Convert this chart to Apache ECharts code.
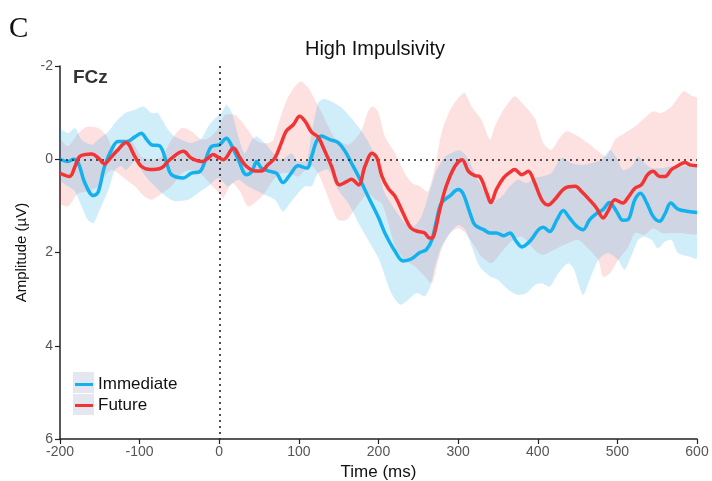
<!DOCTYPE html>
<html>
<head>
<meta charset="utf-8">
<script src="https://cdn.jsdelivr.net/npm/echarts@6/dist/echarts.min.js"></script>
<style>html,body{margin:0;padding:0;background:#fff}#c{width:712px;height:481px}</style>
</head>
<body>
<div id="c"></div>
<script>
// ---- data (time in ms, amplitude in µV) ----
const xTicks = [-200, -100, 0, 100, 200, 300, 400, 500, 600];
const yTicks = [-2, 0, 2, 4, 6];

const immT = [-200,-190,-183,-177,-169,-158,-152,-144,-133,-127,-116,-106,-98,-91,-85,-75,-66,-60,-45,-35,-24,-18,-10,0,9,15,24,34,41,47,53,64,72,80,89,99,110,116,122,128,139,149,158,166,175,187,200,208,221,231,241,252,260,267,273,279,290,300,306,315,321,332,340,348,357,365,373,380,390,401,407,415,424,432,440,449,457,465,474,482,490,499,507,513,522,529,537,545,553,560,567,576,589,600];
const immV = [0.0,0.05,0.0,0.08,0.5,0.78,0.7,0.15,-0.28,-0.38,-0.38,-0.48,-0.56,-0.42,-0.31,-0.29,0.08,0.33,0.4,0.3,0.26,0.05,-0.27,-0.31,-0.45,-0.31,0.01,0.33,0.26,0.05,0.19,0.26,0.3,0.5,0.33,0.14,0.19,-0.06,-0.38,-0.5,-0.42,-0.36,-0.17,0.08,0.37,0.8,1.25,1.58,1.98,2.18,2.14,2.0,1.94,1.73,1.3,0.94,0.78,0.65,0.73,1.16,1.41,1.51,1.58,1.58,1.64,1.58,1.76,1.88,1.76,1.51,1.46,1.55,1.3,1.1,1.26,1.44,1.51,1.3,1.16,1.08,0.93,1.12,1.31,1.3,0.87,0.73,0.94,1.23,1.33,1.16,0.94,1.07,1.12,1.14];

const futT = [-200,-188,-181,-175,-160,-152,-144,-138,-129,-117,-106,-98,-87,-73,-62,-45,-35,-22,-14,-8,0,5,18,26,34,45,53,61,70,78,84,93,101,108,116,124,132,141,151,160,166,175,183,192,198,204,212,221,231,241,250,258,264,269,277,285,296,305,313,321,327,336,341,348,357,365,371,380,388,396,405,413,421,434,447,455,465,474,482,488,497,507,513,522,530,538,545,553,560,568,576,585,591,600];
const futV = [0.3,0.37,0.15,-0.06,-0.11,-0.03,0.1,0.0,-0.17,-0.36,-0.06,0.15,0.22,0.19,0.01,-0.17,-0.02,0.05,-0.02,-0.1,-0.03,0.01,-0.24,-0.03,0.15,0.25,0.25,0.12,-0.03,-0.35,-0.6,-0.74,-0.92,-0.81,-0.58,-0.48,-0.2,0.15,0.55,0.48,0.43,0.55,0.15,-0.13,-0.03,0.35,0.62,0.8,1.16,1.48,1.55,1.58,1.69,1.66,1.08,0.58,0.15,0.01,0.26,0.35,0.37,0.73,0.93,0.65,0.4,0.28,0.22,0.33,0.26,0.5,0.87,0.98,0.87,0.62,0.58,0.69,0.87,1.05,1.26,1.12,0.87,0.94,0.83,0.62,0.55,0.33,0.26,0.37,0.37,0.22,0.14,0.07,0.12,0.14];

// Immediate confidence band: negative-side edge and positive-side edge
const immUpT = [-200,-190,-181,-173,-160,-152,-139,-131,-118,-106,-95,-85,-77,-72,-64,-56,-47,-35,-22,-14,-5,3,9,16,24,32,41,47,57,68,78,91,99,110,116,124,131,141,154,166,179,191,200,208,221,233,244,254,265,273,284,294,302,309,317,325,334,340,349,357,365,375,386,396,405,417,430,442,455,468,480,491,499,507,518,526,534,543,556,568,581,600];
const immUpV = [-0.63,-0.56,-0.67,-0.42,-0.31,-0.42,-0.6,-0.78,-0.99,-1.06,-1.13,-0.99,-0.99,-0.85,-0.63,-0.49,-0.42,-0.35,-0.45,-0.7,-0.88,-1.0,-1.17,-0.99,-0.49,-0.13,-0.42,-0.49,-0.35,-0.13,0.01,-0.13,0.05,0.01,-0.56,-1.2,-1.29,-1.24,-1.1,-0.88,-0.6,-0.24,0.25,0.73,1.08,1.37,1.44,1.23,0.65,0.23,-0.06,-0.15,-0.19,-0.1,0.15,0.44,0.73,0.94,0.87,0.76,0.58,0.44,0.51,0.4,0.37,0.3,-0.03,0.08,0.12,0.08,0.01,-0.2,-0.03,0.23,0.15,-0.06,0.08,0.19,0.19,0.15,0.15,0.15];
const immLoT = [-200,-190,-181,-173,-165,-158,-150,-139,-131,-123,-117,-106,-98,-89,-81,-72,-64,-56,-39,-27,-14,-1,11,24,36,49,57,70,80,89,99,108,116,124,137,149,162,175,187,200,204,216,227,237,248,258,265,271,279,290,300,309,317,327,340,350,363,375,386,396,405,415,426,438,445,451,457,465,476,488,501,509,518,526,534,543,551,560,568,576,589,600];
const immLoV = [0.44,0.58,0.69,1.01,1.3,1.37,1.08,0.65,0.23,0.15,0.23,0.05,0.23,0.44,0.58,0.73,0.83,0.9,0.87,0.73,0.58,0.4,0.58,0.44,0.58,0.69,0.76,0.87,1.12,0.94,0.73,0.58,0.58,0.3,0.23,0.65,0.94,1.37,1.73,2.12,2.3,2.87,3.12,3.02,2.87,2.94,2.73,2.3,1.87,1.58,1.41,1.51,1.87,2.3,2.51,2.59,2.8,2.91,2.87,2.7,2.66,2.73,2.44,2.23,2.34,2.66,2.91,2.59,2.16,2.01,2.16,2.37,2.05,1.73,1.66,1.73,1.91,1.76,1.73,2.01,2.08,2.12];

// Future confidence band
const futUpT = [-200,-190,-177,-165,-152,-141,-133,-123,-110,-98,-85,-72,-60,-47,-35,-22,-10,0,7,20,28,36,45,53,62,68,76,85,95,103,112,120,129,137,145,152,162,170,179,187,193,200,208,221,233,242,252,262,271,279,290,300,308,317,329,340,346,357,371,380,388,397,407,417,426,436,451,463,476,486,497,509,522,534,545,555,568,583,593,600];
const futUpV = [-0.42,-0.28,-0.56,-0.7,-0.67,-0.49,-0.2,-0.35,-0.38,-0.06,0.01,-0.06,-0.42,-0.67,-0.6,-0.42,-0.49,-0.7,-0.95,-0.95,-0.81,-0.63,-0.42,-0.35,-0.35,-0.42,-0.85,-1.28,-1.56,-1.67,-1.53,-1.28,-0.99,-0.7,-0.45,-0.38,-0.31,-0.42,-0.63,-1.03,-1.13,-1.0,-0.49,-0.13,0.3,0.51,0.58,0.69,0.15,-0.56,-1.06,-1.31,-1.42,-1.13,-0.85,-0.42,-0.7,-1.06,-1.35,-1.21,-1.06,-0.85,-0.35,-0.2,-0.42,-0.6,-0.49,-0.35,-0.17,-0.06,-0.42,-0.56,-0.7,-0.88,-1.03,-0.99,-1.13,-1.46,-1.36,-1.31];
const futLoT = [-200,-190,-177,-165,-152,-141,-135,-127,-117,-106,-94,-85,-72,-60,-47,-35,-22,-10,0,5,16,26,36,47,57,68,78,89,99,108,116,124,133,141,149,160,170,179,187,195,204,212,221,233,246,258,267,273,279,290,300,309,321,329,342,355,367,380,392,405,421,434,451,463,476,482,491,501,514,522,534,545,556,568,580,600];
const futLoV = [0.94,1.01,0.73,0.69,0.58,0.3,0.23,0.3,0.44,0.58,0.8,0.87,0.73,0.58,0.3,0.23,0.33,0.55,0.73,0.83,0.51,0.69,1.01,0.9,0.73,0.44,0.3,0.3,0.37,0.23,0.15,0.3,0.65,1.01,1.3,1.3,1.08,0.87,0.73,0.85,0.94,1.35,1.87,2.16,2.3,2.51,2.66,2.3,1.94,1.58,1.48,1.58,1.87,2.08,2.23,1.98,1.76,1.66,1.87,2.05,1.94,1.83,1.73,1.91,2.16,2.52,2.44,2.16,1.87,1.58,1.62,1.48,1.58,1.58,1.58,1.58];

// ---- chart ----
const chart = echarts.init(document.getElementById('c'), null, {renderer: 'canvas'});
const FONT = 'Liberation Sans';

function bandSeries(name, upT, upV, loT, loV, color, z) {
  return {
    type: 'custom', name: name, silent: true, clip: true, z: z,
    data: upT.map((t, i) => [t, upV[i]]),
    encode: {x: 0, y: 1},
    renderItem: function (params, api) {
      if (params.dataIndex !== 0) return null;
      const pts = [];
      for (let i = 0; i < upT.length; i++) pts.push(api.coord([upT[i], upV[i]]));
      for (let i = loT.length - 1; i >= 0; i--) pts.push(api.coord([loT[i], loV[i]]));
      return {type: 'polygon', shape: {points: pts, smooth: 0.25}, style: {fill: color}};
    }
  };
}

const option = {
  animation: false,
  textStyle: {fontFamily: FONT},
  title: [
    {text: 'C', left: 4, top: 10, textStyle: {fontFamily: 'Liberation Serif', fontSize: 29, fontWeight: 'normal', color: '#111'}},
    {text: 'High Impulsivity', left: 370, top: 34, textAlign: 'center', textStyle: {fontFamily: FONT, fontSize: 20, fontWeight: 'normal', color: '#111'}},
    {text: 'FCz', left: 68, top: 63, textStyle: {fontFamily: FONT, fontSize: 19, fontWeight: 'bold', color: '#333'}}
  ],
  grid: {left: 60, right: 15, top: 66, bottom: 42, containLabel: false, outerBoundsMode: 'none'},
  legend: {
    data: ['Immediate', 'Future'],
    orient: 'vertical', left: 70, top: 371,
    icon: 'rect', itemWidth: 18, itemHeight: 3, itemGap: 4,
    textStyle: {fontFamily: FONT, fontSize: 17, color: '#111'},
    selectedMode: false
  },
  graphic: [
    {type: 'rect', left: 73, top: 372, shape: {width: 21, height: 21}, style: {fill: '#e5e7f0'}, z: -1},
    {type: 'rect', left: 73, top: 394, shape: {width: 21, height: 21}, style: {fill: '#e5e7f0'}, z: -1}
  ],
  xAxis: {
    type: 'value', min: xTicks[0], max: xTicks[xTicks.length - 1], interval: 100,
    name: 'Time (ms)', nameLocation: 'middle', nameGap: 18,
    nameTextStyle: {fontFamily: FONT, fontSize: 17, color: '#111'},
    axisLine: {show: true, onZero: false, lineStyle: {color: '#222', width: 1.5}},
    axisTick: {show: true, inside: false, length: 5, lineStyle: {color: '#222', width: 1.2}},
    axisLabel: {fontFamily: FONT, fontSize: 14, color: '#555', margin: 6},
    splitLine: {show: false}
  },
  yAxis: {
    type: 'value', inverse: true, min: yTicks[0], max: yTicks[yTicks.length - 1], interval: 2,
    name: 'Amplitude (µV)', nameLocation: 'middle', nameGap: 31, nameRotate: 90,
    nameTextStyle: {fontFamily: FONT, fontSize: 15, color: '#111'},
    axisLine: {show: true, onZero: false, lineStyle: {color: '#222', width: 1.5}},
    axisTick: {show: true, inside: false, length: 5, lineStyle: {color: '#222', width: 1.2}},
    axisLabel: {fontFamily: FONT, fontSize: 14, color: '#555', margin: 7},
    splitLine: {show: false}
  },
  series: [
    bandSeries('FutureBand', futUpT, futUpV, futLoT, futLoV, 'rgba(240,20,20,0.13)', 1),
    bandSeries('ImmediateBand', immUpT, immUpV, immLoT, immLoV, 'rgba(0,160,230,0.185)', 2),
    {
      name: 'Immediate', type: 'line', z: 4,
      data: immT.map((t, i) => [t, immV[i]]),
      smooth: 0.35, showSymbol: false, symbol: 'none',
      itemStyle: {color: '#14b1ef'},
      lineStyle: {color: '#14b1ef', width: 3.5},
      markLine: {
        silent: true, symbol: 'none', label: {show: false},
        lineStyle: {color: '#222', type: [2, 4], width: 1.6},
        data: [{yAxis: 0}, {xAxis: 0}]
      }
    },
    {
      name: 'Future', type: 'line', z: 5,
      data: futT.map((t, i) => [t, futV[i]]),
      smooth: 0.35, showSymbol: false, symbol: 'none',
      itemStyle: {color: '#f23434'},
      lineStyle: {color: '#f23434', width: 3.5}
    }
  ]
};
chart.setOption(option);
</script>
</body>
</html>
